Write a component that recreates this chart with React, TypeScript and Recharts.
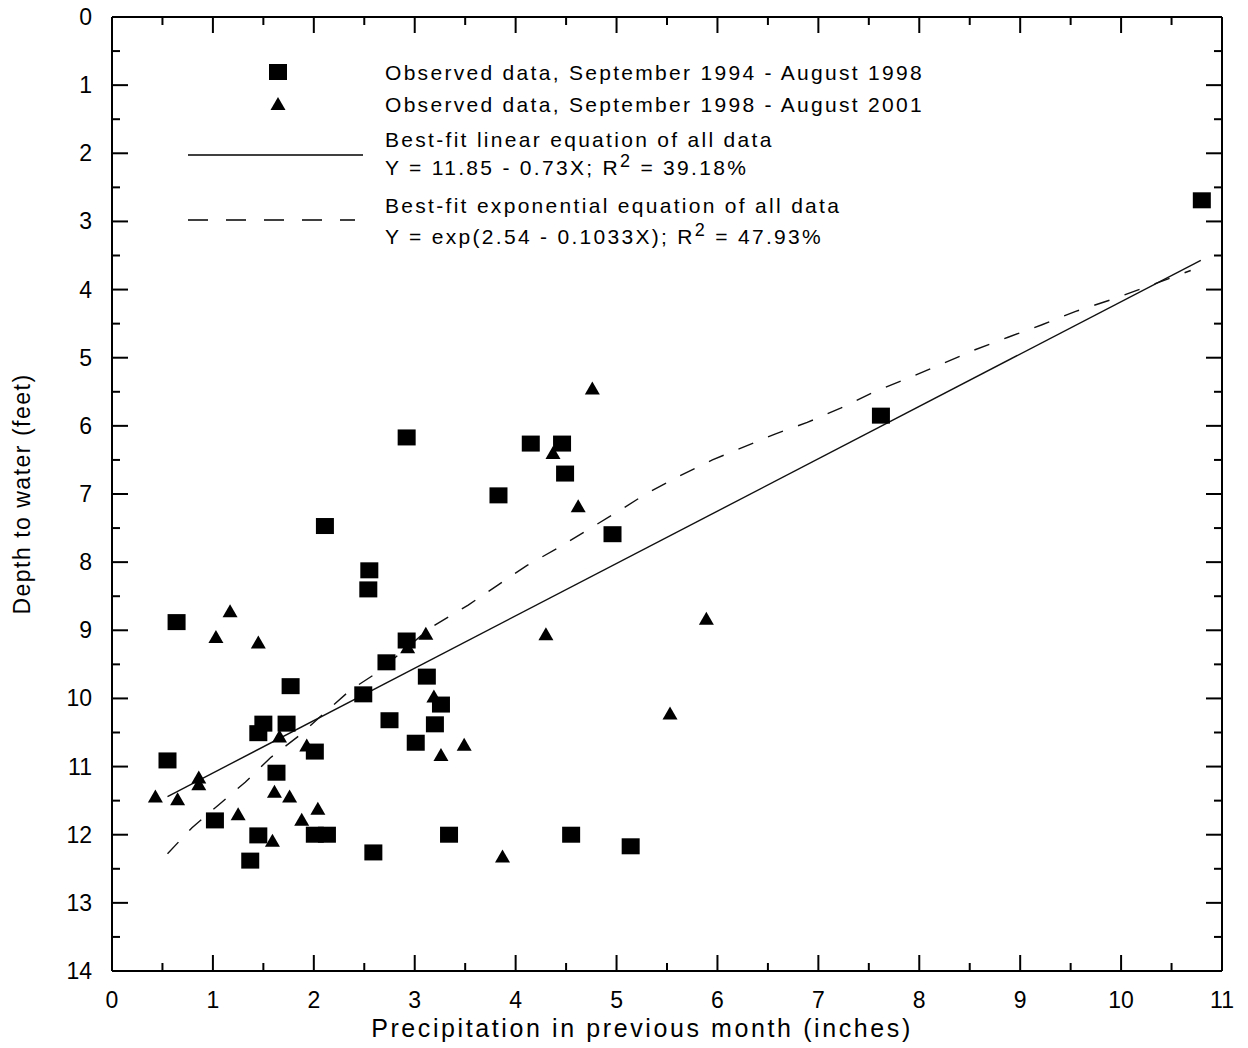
import React from "react";
import { Label, Scatter, ScatterChart, XAxis, YAxis } from "recharts";

// observed data, September 1994 - August 1998 (squares)
const p1Precip = [0.55, 0.64, 1.02, 1.37, 1.45, 1.45, 1.5, 1.63, 1.73, 1.77, 2.01, 2.01, 2.13, 2.11, 2.49, 2.54, 2.55, 2.59, 2.72, 2.75, 2.92, 2.92, 3.01, 3.12, 3.2, 3.26, 3.34, 3.83, 4.15, 4.46, 4.49, 4.55, 4.96, 5.14, 7.62, 10.8];
const p1Depth = [10.91, 8.88, 11.79, 12.38, 10.51, 12.01, 10.37, 11.09, 10.37, 9.82, 10.78, 12.0, 12.0, 7.47, 9.94, 8.4, 8.12, 12.26, 9.47, 10.32, 6.17, 9.15, 10.65, 9.68, 10.38, 10.09, 12.0, 7.02, 6.26, 6.26, 6.7, 12.0, 7.59, 12.17, 5.85, 2.69];

// observed data, September 1998 - August 2001 (triangles)
const p2Precip = [0.43, 0.65, 0.86, 0.86, 1.03, 1.17, 1.25, 1.45, 1.59, 1.61, 1.66, 1.76, 1.88, 1.93, 2.04, 2.93, 3.11, 3.19, 3.26, 3.49, 3.87, 4.3, 4.37, 4.62, 4.76, 5.53, 5.89];
const p2Depth = [11.44, 11.48, 11.16, 11.26, 9.1, 8.72, 11.7, 9.18, 12.09, 11.37, 10.56, 11.44, 11.78, 10.69, 11.62, 9.25, 9.05, 9.97, 10.83, 10.68, 12.32, 9.06, 6.4, 7.18, 5.45, 10.22, 8.83];

// fitted lines
const linearX = [0.55, 10.79];
const linearY = [11.44, 3.57];
const expX = [0.55, 0.79, 1.05, 1.32, 1.57, 1.86, 2.13, 2.36, 2.63, 3.15, 3.53, 3.82, 4.11, 4.41, 4.71, 5.0, 5.3, 5.63, 5.95, 6.57, 6.89, 7.22, 7.54, 7.89, 8.21, 8.54, 8.88, 9.21, 9.55, 9.92, 10.69];
const expY = [12.28, 11.9, 11.57, 11.23, 10.87, 10.54, 10.18, 9.88, 9.62, 8.97, 8.63, 8.34, 8.05, 7.8, 7.53, 7.27, 6.99, 6.73, 6.5, 6.12, 5.95, 5.74, 5.51, 5.3, 5.1, 4.89, 4.7, 4.52, 4.32, 4.14, 3.72];

const xTicks = [0, 0.5, 1, 1.5, 2, 2.5, 3, 3.5, 4, 4.5, 5, 5.5, 6, 6.5, 7, 7.5, 8, 8.5, 9, 9.5, 10, 10.5, 11];
const yTicks = [0, 0.5, 1, 1.5, 2, 2.5, 3, 3.5, 4, 4.5, 5, 5.5, 6, 6.5, 7, 7.5, 8, 8.5, 9, 9.5, 10, 10.5, 11, 11.5, 12, 12.5, 13, 13.5, 14];

const zip = (xs: number[], ys: number[]) => xs.map((x, i) => ({ x, y: ys[i] }));
const squares = zip(p1Precip, p1Depth);
const triangles = zip(p2Precip, p2Depth);
const linearFit = zip(linearX, linearY);
const expFit = zip(expX, expY);

const FONT = "'Liberation Sans', Arial, sans-serif";
const MAJOR = 16;
const MINOR = 8;

const isMajor = (v: number) => Number.isInteger(v);

const BottomTick = (p: any) => {
  const v = p.payload.value;
  return (
    <g>
      <line x1={p.x} x2={p.x} y1={p.y} y2={p.y - (isMajor(v) ? MAJOR : MINOR)} stroke="#000" strokeWidth={2} />
      {isMajor(v) && (
        <text x={p.x} y={p.y + 37} textAnchor="middle" fontSize={23} fontFamily={FONT} fill="#000">
          {v}
        </text>
      )}
    </g>
  );
};

const TopTick = (p: any) => (
  <line x1={p.x} x2={p.x} y1={p.y} y2={p.y + (isMajor(p.payload.value) ? MAJOR : MINOR)} stroke="#000" strokeWidth={2} />
);

const LeftTick = (p: any) => {
  const v = p.payload.value;
  return (
    <g>
      <line x1={p.x} x2={p.x + (isMajor(v) ? MAJOR : MINOR)} y1={p.y} y2={p.y} stroke="#000" strokeWidth={2} />
      {isMajor(v) && (
        <text x={p.x - 20} y={p.y + 8} textAnchor="end" fontSize={23} fontFamily={FONT} fill="#000">
          {v}
        </text>
      )}
    </g>
  );
};

const RightTick = (p: any) => (
  <line x1={p.x} x2={p.x - (isMajor(p.payload.value) ? MAJOR : MINOR)} y1={p.y} y2={p.y} stroke="#000" strokeWidth={2} />
);

const Square = (p: any) => <rect x={p.cx - 9} y={p.cy - 8} width={18} height={16} fill="#000" />;
const Triangle = (p: any) => (
  <polygon points={`${p.cx},${p.cy - 7} ${p.cx - 7.5},${p.cy + 6} ${p.cx + 7.5},${p.cy + 6}`} fill="#000" />
);
const NoDot = () => <g />;

const textStyle = { fontSize: 21, fontFamily: FONT, letterSpacing: 2.3, fill: "#000" };

// legend box drawn over the chart, page coordinates
const LegendBox = () => (
  <svg width={980} height={260} style={{ position: "absolute", left: 0, top: 0, pointerEvents: "none" }}>
    <rect x={269} y={64} width={18} height={16} fill="#000" />
    <polygon points="278,97 270.5,110 285.5,110" fill="#000" />
    <line x1={188} x2={363} y1={155} y2={155} stroke="#000" strokeWidth={1.5} />
    <line x1={188} x2={355} y1={220} y2={220} stroke="#000" strokeWidth={1.5} strokeDasharray="20 18" />
    <text x={385} y={80} {...textStyle}>Observed data, September 1994 - August 1998</text>
    <text x={385} y={112} {...textStyle}>Observed data, September 1998 - August 2001</text>
    <text x={385} y={147} {...textStyle}>Best-fit linear equation of all data</text>
    <text x={385} y={175} {...textStyle}>
      Y = 11.85 - 0.73X; R<tspan dy={-8} fontSize={18}>2</tspan>
      <tspan dy={8}> = 39.18%</tspan>
    </text>
    <text x={385} y={213} {...textStyle}>Best-fit exponential equation of all data</text>
    <text x={385} y={244} {...textStyle}>
      Y = exp(2.54 - 0.1033X); R<tspan dy={-8} fontSize={18}>2</tspan>
      <tspan dy={8}> = 47.93%</tspan>
    </text>
  </svg>
);

const axisLine = { stroke: "#000", strokeWidth: 2 };

export default function App() {
  return (
    <div style={{ position: "absolute", left: 0, top: 0, width: 1248, height: 1048 }}>
      <ScatterChart width={1248} height={1048} margin={{ top: 16, right: 25, bottom: 0, left: 0 }}>
        <XAxis
          xAxisId="b"
          type="number"
          dataKey="x"
          domain={[0, 11]}
          ticks={xTicks}
          interval={0}
          allowDataOverflow
          height={77}
          tickSize={0}
          tickMargin={0}
          tickLine={false}
          axisLine={axisLine}
          tick={<BottomTick />}
        >
          <Label
            content={(props: any) => {
              const vb = props.viewBox;
              return (
                <text x={vb.x + vb.width / 2 - 25} y={vb.y + 66} textAnchor="middle" fontSize={25} fontFamily={FONT} letterSpacing={2.6} fill="#000">
                  Precipitation in previous month (inches)
                </text>
              );
            }}
          />
        </XAxis>
        <XAxis
          xAxisId="t"
          orientation="top"
          type="number"
          dataKey="x"
          domain={[0, 11]}
          ticks={xTicks}
          interval={0}
          allowDataOverflow
          height={1}
          tickSize={0}
          tickMargin={0}
          tickLine={false}
          axisLine={axisLine}
          tick={<TopTick />}
        />
        <YAxis
          yAxisId="l"
          type="number"
          dataKey="y"
          domain={[0, 14]}
          reversed
          ticks={yTicks}
          interval={0}
          allowDataOverflow
          width={112}
          tickSize={0}
          tickMargin={0}
          tickLine={false}
          axisLine={axisLine}
          tick={<LeftTick />}
        >
          <Label
            content={(props: any) => {
              const vb = props.viewBox;
              const cy = vb.y + vb.height / 2;
              return (
                <text x={22} y={cy} transform={`rotate(-90 22 ${cy})`} textAnchor="middle" dominantBaseline="central" fontSize={23} fontFamily={FONT} letterSpacing={1.5} fill="#000">
                  Depth to water (feet)
                </text>
              );
            }}
          />
        </YAxis>
        <YAxis
          yAxisId="r"
          orientation="right"
          type="number"
          dataKey="y"
          domain={[0, 14]}
          reversed
          ticks={yTicks}
          interval={0}
          allowDataOverflow
          width={1}
          tickSize={0}
          tickMargin={0}
          tickLine={false}
          axisLine={axisLine}
          tick={<RightTick />}
        />
        {/* invisible series so the mirrored top/right frame axes get drawn */}
        <Scatter name="frame" data={linearFit} xAxisId="t" yAxisId="r" shape={NoDot} isAnimationActive={false} />
        <Scatter name="linear" data={linearFit} xAxisId="b" yAxisId="l" line={{ stroke: "#111", strokeWidth: 1.4 }} shape={NoDot} isAnimationActive={false} />
        <Scatter name="exp" data={expFit} xAxisId="b" yAxisId="l" line={{ stroke: "#111", strokeWidth: 1.4, strokeDasharray: "16 16" }} shape={NoDot} isAnimationActive={false} />
        <Scatter name="1994-1998" data={squares} xAxisId="b" yAxisId="l" shape={Square} isAnimationActive={false} />
        <Scatter name="1998-2001" data={triangles} xAxisId="b" yAxisId="l" shape={Triangle} isAnimationActive={false} />
      </ScatterChart>
      <LegendBox />
    </div>
  );
}
